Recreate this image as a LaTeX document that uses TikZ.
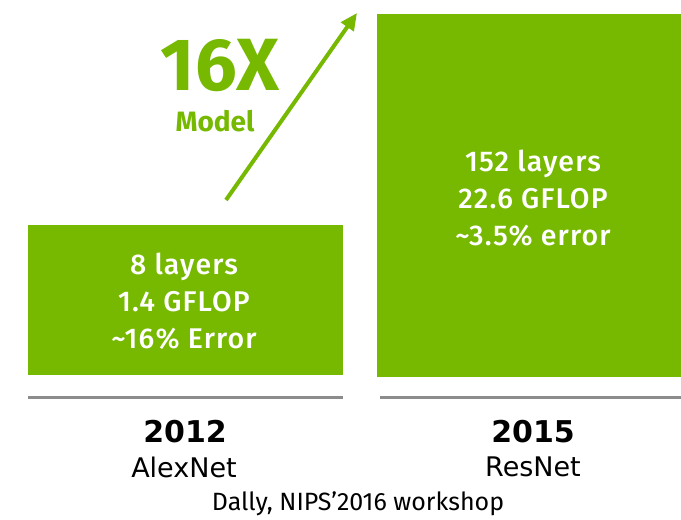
\documentclass[tikz,border=0pt]{standalone}
\usepackage{fontspec}
\setmainfont{Fira Sans}
\newfontfamily\boxfont[LetterSpace=4]{Fira Sans Medium}
\newfontfamily\labelfont{DejaVu Sans}
\usetikzlibrary{arrows.meta}
\definecolor{nvgreen}{HTML}{76B900}
\definecolor{rulegray}{HTML}{8C8C8C}
\tikzset{
  box/.style={fill=nvgreen, draw=none, inner sep=0pt},
  boxtext/.style={text=white, align=center, font=\boxfont\fontsize{28.5}{37}\selectfont},
  yeartext/.style={font=\labelfont\bfseries\fontsize{30}{34}\selectfont, text=black},
  nametext/.style={font=\labelfont\fontsize{27}{30}\selectfont, text=black},
  baseline rule/.style={draw=rulegray, line width=3pt},
  growth/.style={draw=nvgreen, line width=4pt, -{Triangle[length=17pt,width=15pt]}}
}
\begin{document}
\begin{tikzpicture}[x=1pt,y=-1pt]
\useasboundingbox (0,0) rectangle (681,520);
\fill[white] (0,0) rectangle (681,520);
% boxes
\path[box] (28,225) rectangle (343,375);
\path[box] (377,14) rectangle (681,377);
\node[boxtext] (ltext) at (184,301) {8 layers\\1.4 GFLOP\\\textasciitilde16\% Error};
\node[boxtext] (rtext) at (533,198) {152 layers\\22.6 GFLOP\\\textasciitilde3.5\% error};
% rules
\coordinate (l1) at (28,397);
\coordinate (l2) at (343,397);
\coordinate (r1) at (380,397);
\coordinate (r2) at (681,397);
\draw[baseline rule] (l1) -- (l2);
\draw[baseline rule] (r1) -- (r2);
% labels
\node[yeartext] (y1) at (185,432) {2012};
\node[nametext] (n1) at (184,467) {AlexNet};
\node[yeartext] (y2) at (533,432) {2015};
\node[nametext] (n2) at (533,467) {ResNet};
\node[font=\fontsize{25}{28}\selectfont] (cap) at (358,504) {Dally, NIPS’2016 workshop};
% growth arrow
\coordinate (atail) at (226,200);
\coordinate (ahead) at (357,13);
\draw[growth] (atail) -- (ahead);
\node[text=nvgreen, font=\bfseries\fontsize{74}{74}\selectfont] (x16) at (220,65) {16X};
\node[text=nvgreen, font=\bfseries\fontsize{28}{28}\selectfont] (model) at (215,121) {Model};
\end{tikzpicture}
\end{document}
